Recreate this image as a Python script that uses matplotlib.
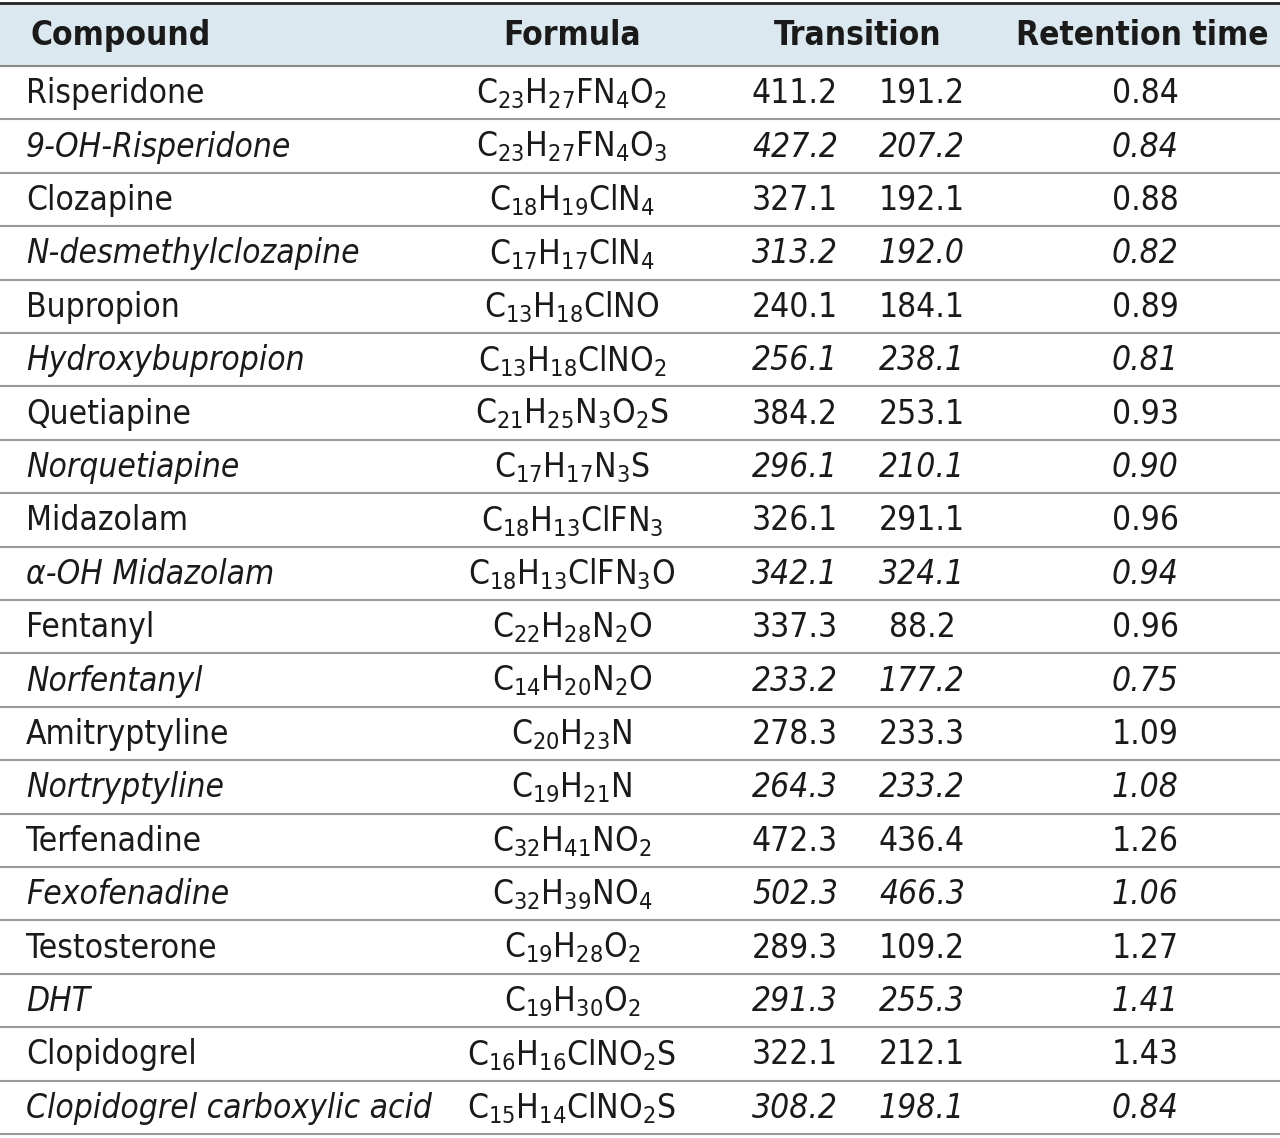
import matplotlib
matplotlib.use("Agg")
import matplotlib.pyplot as plt
from matplotlib import font_manager

fl = font_manager.fontManager.ttflist
names = [f.name for f in fl]
if "Liberation Sans Narrow" in names:
    FAM, STR, fs = "Liberation Sans Narrow", "normal", 25
elif "DejaVu Sans Condensed" in names:
    FAM, STR, fs = "DejaVu Sans Condensed", "normal", 24
elif any(f.name == "DejaVu Sans" and f.stretch == "condensed" for f in fl):
    FAM, STR, fs = "DejaVu Sans", "condensed", 24
else:
    FAM, STR, fs = "DejaVu Sans", "normal", 21
plt.rcParams["font.family"] = FAM
plt.rcParams["font.stretch"] = STR
plt.rcParams["mathtext.fontset"] = "custom"
plt.rcParams["mathtext.rm"] = FAM + ":stretch=" + STR

headers = ["Compound", "Formula", "Transition", "Retention time"]
compounds = ["Risperidone", "9-OH-Risperidone", "Clozapine", "N-desmethylclozapine",
             "Bupropion", "Hydroxybupropion", "Quetiapine", "Norquetiapine",
             "Midazolam", "α-OH Midazolam", "Fentanyl", "Norfentanyl",
             "Amitryptyline", "Nortryptyline", "Terfenadine", "Fexofenadine",
             "Testosterone", "DHT", "Clopidogrel", "Clopidogrel carboxylic acid"]
formulas = ["C_{23}H_{27}FN_4O_2", "C_{23}H_{27}FN_4O_3", "C_{18}H_{19}ClN_4", "C_{17}H_{17}ClN_4",
            "C_{13}H_{18}ClNO", "C_{13}H_{18}ClNO_2", "C_{21}H_{25}N_3O_2S", "C_{17}H_{17}N_3S",
            "C_{18}H_{13}ClFN_3", "C_{18}H_{13}ClFN_3O", "C_{22}H_{28}N_2O", "C_{14}H_{20}N_2O",
            "C_{20}H_{23}N", "C_{19}H_{21}N", "C_{32}H_{41}NO_2", "C_{32}H_{39}NO_4",
            "C_{19}H_{28}O_2", "C_{19}H_{30}O_2", "C_{16}H_{16}ClNO_2S", "C_{15}H_{14}ClNO_2S"]
precursor = ["411.2", "427.2", "327.1", "313.2", "240.1", "256.1", "384.2", "296.1", "326.1", "342.1",
             "337.3", "233.2", "278.3", "264.3", "472.3", "502.3", "289.3", "291.3", "322.1", "308.2"]
product = ["191.2", "207.2", "192.1", "192.0", "184.1", "238.1", "253.1", "210.1", "291.1", "324.1",
           "88.2", "177.2", "233.3", "233.2", "436.4", "466.3", "109.2", "255.3", "212.1", "198.1"]
retention = ["0.84", "0.84", "0.88", "0.82", "0.89", "0.81", "0.93", "0.90", "0.96", "0.94",
             "0.96", "0.75", "1.09", "1.08", "1.26", "1.06", "1.27", "1.41", "1.43", "0.84"]

W, H = 1280, 1138
fig = plt.figure(figsize=(W / 100, H / 100), dpi=100)
ax = fig.add_axes([0, 0, 1, 1])
ax.set_xlim(0, W)
ax.set_ylim(H, 0)
ax.axis("off")

top, head_bot = 3, 66
row_h = (1134 - head_bot) / len(compounds)
ax.add_patch(plt.Rectangle((0, top), W, head_bot - top, color="#dce8ef", zorder=0))
ax.plot([0, W], [top, top], color="#222222", lw=2)
ax.plot([0, W], [head_bot, head_bot], color="#888888", lw=1.5)

hy = (top + head_bot) / 2 + 1
hk = dict(fontsize=fs, fontweight="bold", va="center", color="#1a1a1a")
ax.text(30, hy, headers[0], ha="left", **hk)
ax.text(572, hy, headers[1], ha="center", **hk)
ax.text(858, hy, headers[2], ha="center", **hk)
ax.text(1142, hy, headers[3], ha="center", **hk)

for i in range(len(compounds)):
    y0 = head_bot + i * row_h
    yc = y0 + row_h / 2 + 1
    st = "italic" if i % 2 == 1 else "normal"
    kw = dict(fontsize=fs, va="center", color="#1a1a1a", style=st)
    ax.text(26, yc, compounds[i], ha="left", **kw)
    ax.text(572, yc, r"$\mathregular{" + formulas[i] + "}$", ha="center", fontsize=fs,
            va="center", color="#1a1a1a")
    ax.text(838, yc, precursor[i], ha="right", **kw)
    ax.text(922, yc, product[i], ha="center", **kw)
    ax.text(1145, yc, retention[i], ha="center", **kw)
    ax.plot([0, W], [y0 + row_h, y0 + row_h], color="#999999", lw=1.5)

fig.savefig("out.png", dpi=100)
